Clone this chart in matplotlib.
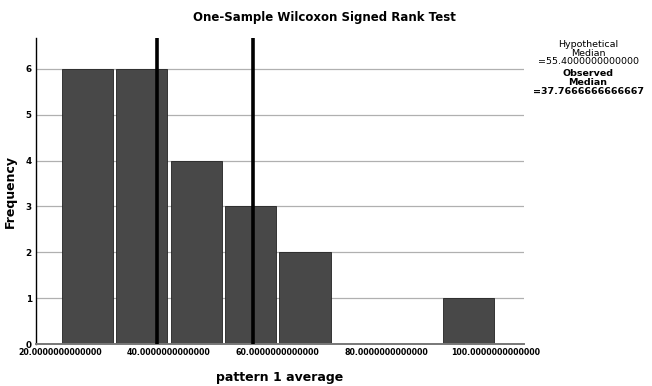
import matplotlib.pyplot as plt

# histogram bins (centre of each 10-wide bin) and counts
bin_centres = [25, 35, 45, 55, 65, 75, 85, 95]
frequencies = [6, 6, 4, 3, 2, 0, 0, 1]
hyp_median = 55.4
obs_median = 37.7666666666667
x_ticks = [20, 40, 60, 80, 100]
y_ticks = [0, 1, 2, 3, 4, 5, 6]

plt.rcParams['font.family'] = ['DejaVu Sans']

fig = plt.figure(figsize=(6.52, 3.86), dpi=100)
ax = fig.add_axes([0.0552, 0.1088, 0.7485, 0.7927])

ax.bar(bin_centres, frequencies, width=9.4, color='#484848',
       edgecolor='#222222', linewidth=0.6, zorder=2)
ax.axvline(obs_median, color='black', linewidth=2.6, zorder=3)
ax.axvline(hyp_median, color='black', linewidth=2.6, zorder=3)

ax.set_xlim(15.6, 105.2)
ax.set_ylim(0, 6.67)
ax.set_xticks(x_ticks)
ax.set_xticklabels([f"{v:.13f}" for v in x_ticks], fontsize=6.3,
                   fontweight='bold', fontstretch='condensed')
ax.set_yticks(y_ticks)
ax.set_yticklabels([str(v) for v in y_ticks], fontsize=6.3, fontweight='bold')
ax.tick_params(length=0, pad=3)
ax.yaxis.grid(True, color='#b0b0b0', linewidth=0.9, zorder=0)

for side in ['top', 'right']:
    ax.spines[side].set_visible(False)
ax.spines['left'].set_color('black')
ax.spines['left'].set_linewidth(1.0)
ax.spines['bottom'].set_color('#777777')
ax.spines['bottom'].set_linewidth(1.4)

ax.set_xlabel("pattern 1 average", fontsize=9, fontweight='bold', labelpad=10)
ax.set_ylabel("Frequency", fontsize=9, fontweight='bold', labelpad=6)
fig.text(0.498, 0.955, "One-Sample Wilcoxon Signed Rank Test", ha='center',
         va='center', fontsize=8.5, fontweight='bold')

fig.text(0.902, 0.897, "Hypothetical\nMedian\n=55.4000000000000", ha='center',
         va='top', fontsize=6.8, linespacing=0.98)
fig.text(0.902, 0.820, "Observed\nMedian\n=37.7666666666667", ha='center',
         va='top', fontsize=6.8, fontweight='bold', linespacing=0.98)

fig.savefig("out.png", dpi=100)
